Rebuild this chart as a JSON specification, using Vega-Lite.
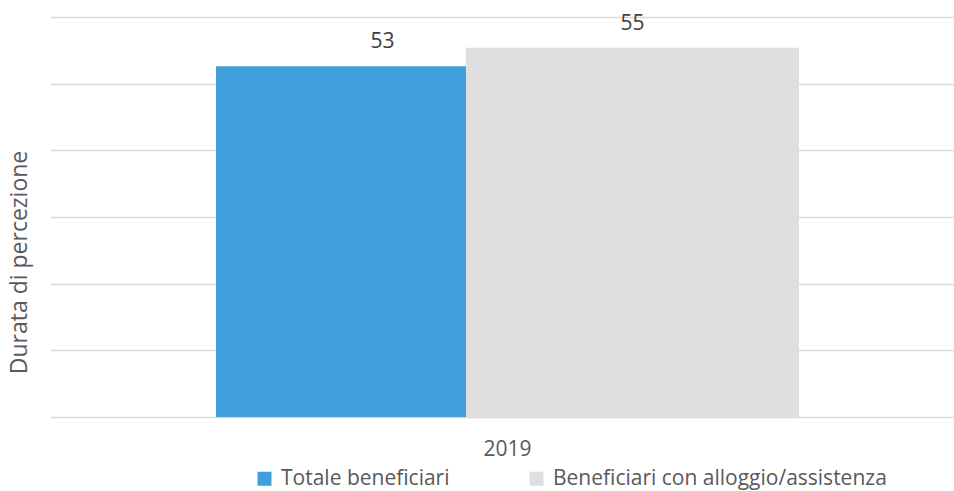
{
  "$schema": "https://vega.github.io/schema/vega-lite/v6.json",
  "autosize": "none",
  "width": 904,
  "height": 400,
  "padding": {"left": 50, "top": 17, "right": 0, "bottom": 74},
  "background": "white",
  "config": {
    "view": {"stroke": null},
    "font": "Open Sans",
    "axis": {"labelFont": "Open Sans", "titleFont": "Open Sans"},
    "legend": {"labelFont": "Open Sans"}
  },
  "data": {
    "values": [
      {"anno": "2019", "serie": "Totale beneficiari", "valore": 52.6},
      {"anno": "2019", "serie": "Beneficiari con alloggio/assistenza", "valore": 55.4}
    ]
  },
  "encoding": {
    "x": {
      "field": "anno",
      "type": "nominal",
      "scale": {"paddingInner": 0, "paddingOuter": 0.404, "align": 0.5136},
      "axis": {
        "title": null,
        "labelAngle": 0,
        "domain": false,
        "ticks": false,
        "tickSize": 0,
        "labelPadding": 38,
        "labelBaseline": "alphabetic",
        "labelFontSize": 21,
        "labelColor": "#595959"
      }
    },
    "xOffset": {
      "field": "serie",
      "type": "nominal",
      "sort": ["Totale beneficiari", "Beneficiari con alloggio/assistenza"],
      "scale": {"paddingInner": 0, "paddingOuter": 0}
    },
    "y": {
      "field": "valore",
      "type": "quantitative",
      "scale": {"domain": [0, 60], "nice": false},
      "axis": {
        "title": "Durata di percezione",
        "titleFontSize": 23,
        "titleFontWeight": "normal",
        "titleColor": "#595959",
        "titleX": -24,
        "titleY": 245,
        "titleAngle": -90,
        "titleAlign": "center",
        "titleBaseline": "alphabetic",
        "labels": false,
        "ticks": false,
        "domain": false,
        "values": [0, 10, 20, 30, 40, 50, 60],
        "grid": true,
        "gridColor": "#D9D9D9",
        "gridWidth": 1.3
      }
    }
  },
  "layer": [
    {
      "mark": {"type": "bar", "width": 333},
      "encoding": {
        "color": {
          "field": "serie",
          "type": "nominal",
          "sort": ["Totale beneficiari", "Beneficiari con alloggio/assistenza"],
          "scale": {
            "domain": ["Totale beneficiari", "Beneficiari con alloggio/assistenza"],
            "range": ["#409FDB", "#DFDFDF"]
          },
          "legend": {
            "title": null,
            "orient": "none",
            "direction": "horizontal",
            "legendX": 204,
            "legendY": 451,
            "symbolType": "square",
            "symbolSize": 196,
            "symbolStrokeWidth": 0,
            "labelFontSize": 21,
            "labelColor": "#595959",
            "labelOffset": 6,
            "columnPadding": 76,
            "labelLimit": 500
          }
        }
      }
    },
    {
      "mark": {"type": "text", "fontSize": 21, "color": "#404040", "baseline": "alphabetic", "dy": -18},
      "encoding": {
        "text": {"field": "valore", "type": "quantitative", "format": ".0f"}
      }
    }
  ]
}
